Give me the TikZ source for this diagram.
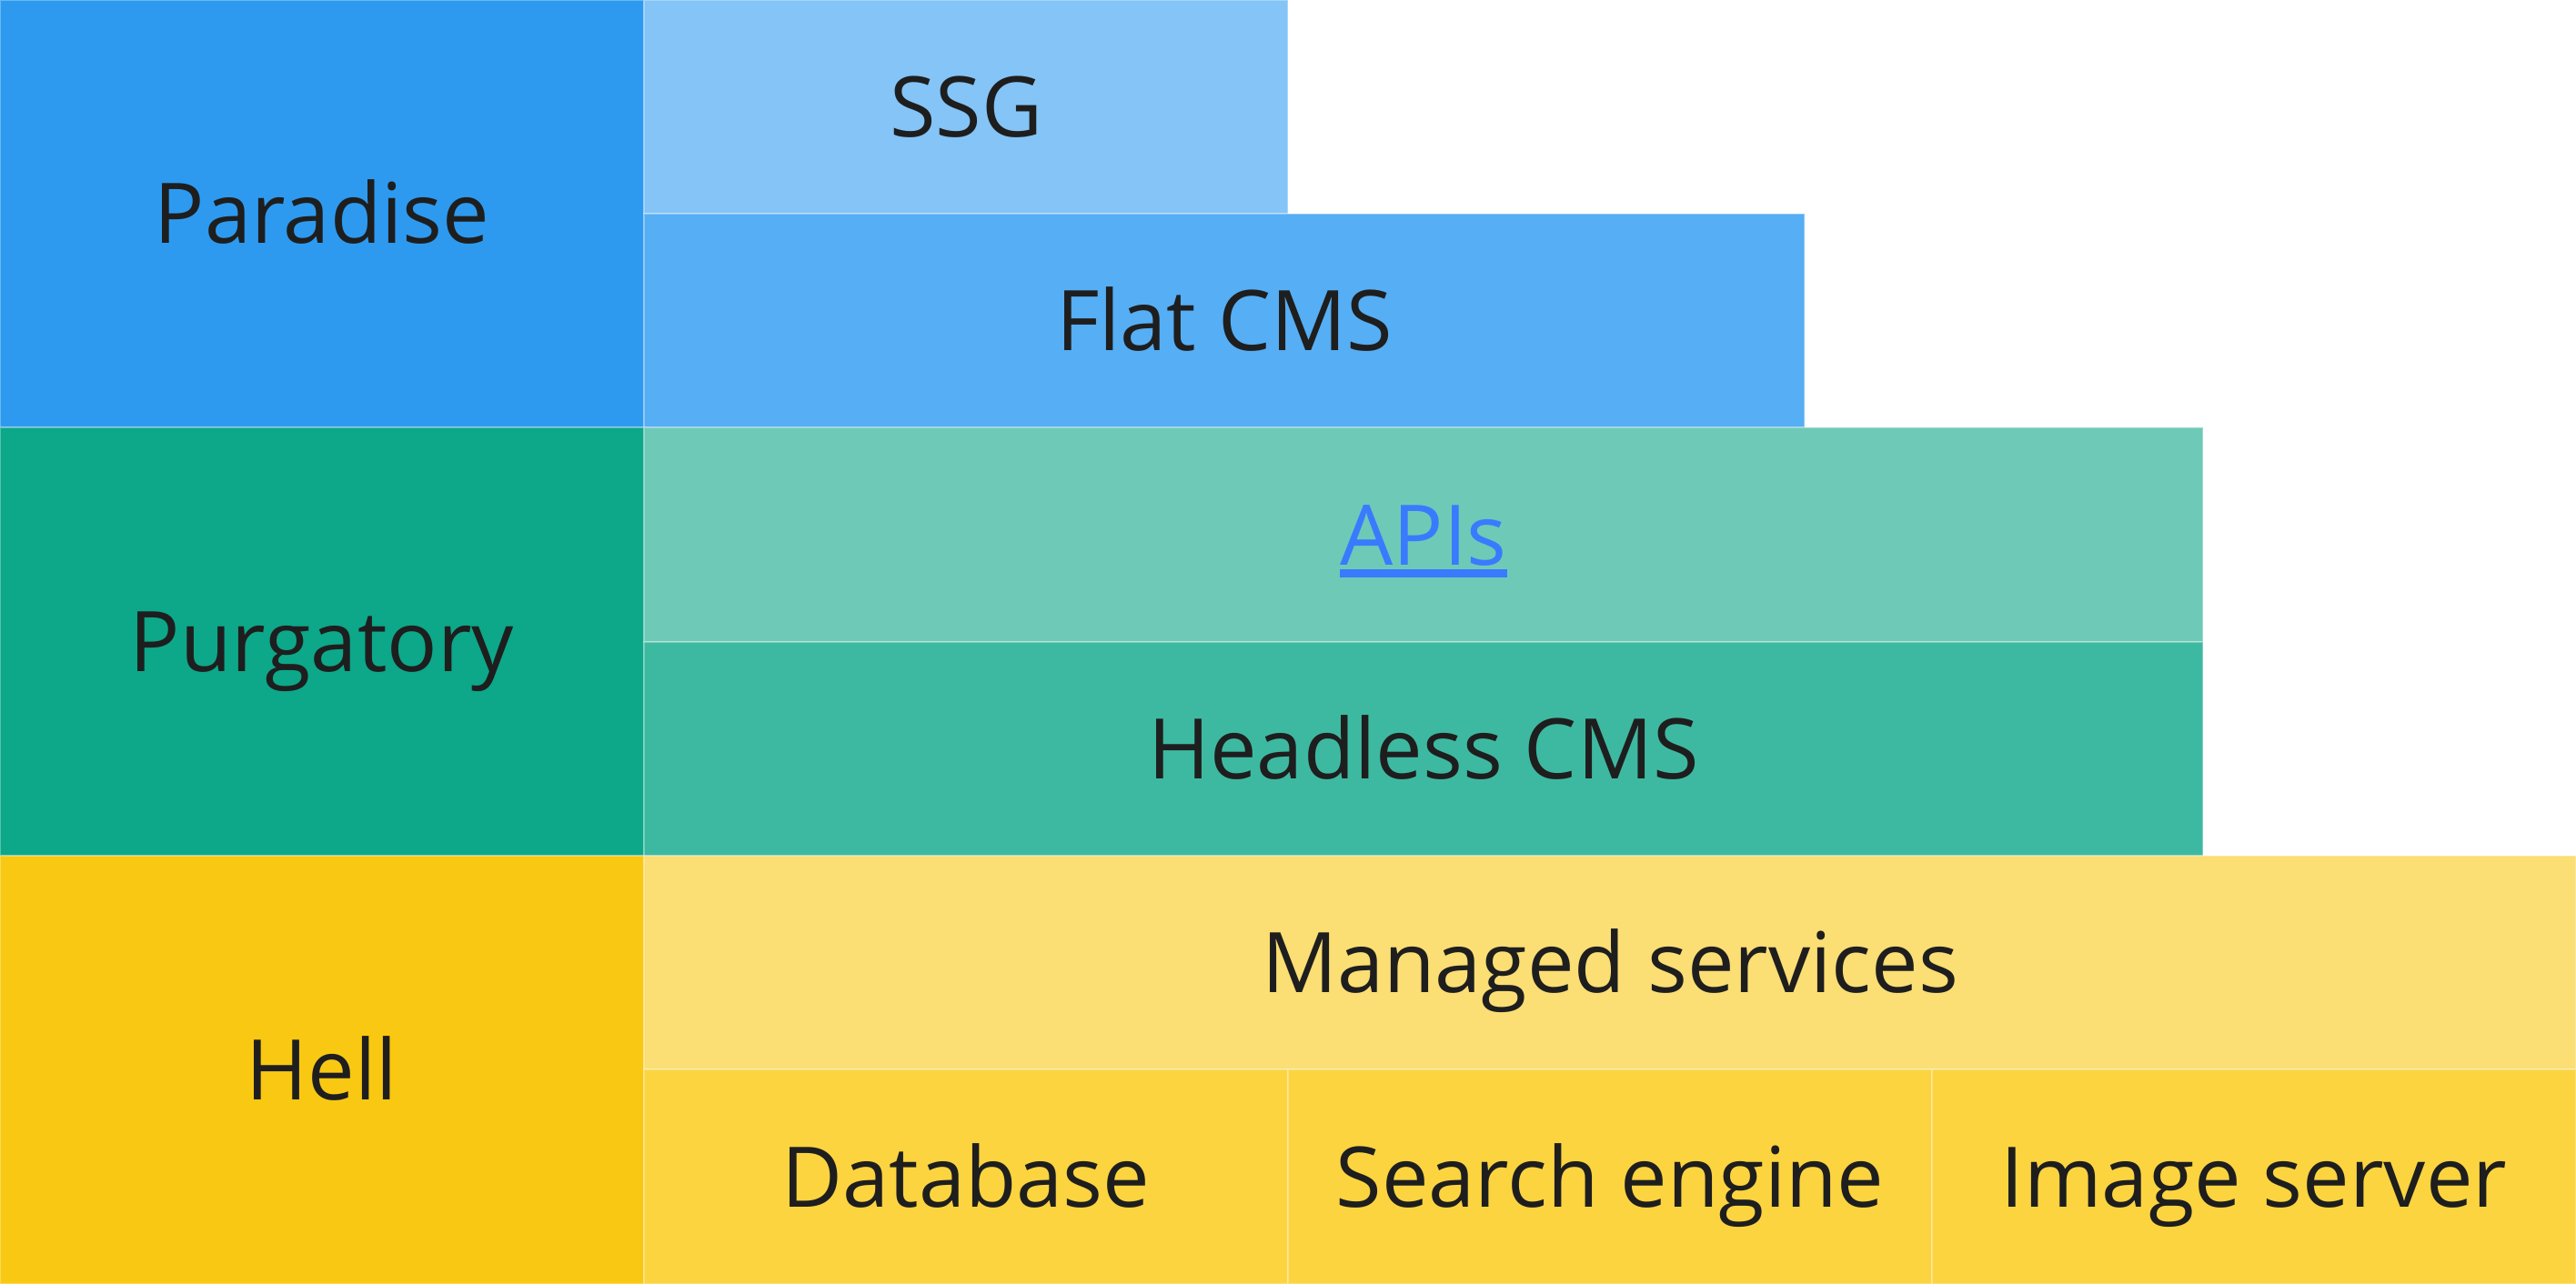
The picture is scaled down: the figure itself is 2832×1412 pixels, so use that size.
\documentclass[tikz,border=0pt]{standalone}
\usepackage{fontspec}
\setmainfont{Open Sans}
\definecolor{cParadise}{HTML}{2D9AF0}
\definecolor{cSSG}{HTML}{84C4F7}
\definecolor{cFlat}{HTML}{56AEF4}
\definecolor{cPurg}{HTML}{0DA789}
\definecolor{cAPI}{HTML}{6ECAB7}
\definecolor{cHeadless}{HTML}{3EB9A1}
\definecolor{cHell}{HTML}{F9C812}
\definecolor{cManaged}{HTML}{FBDE74}
\definecolor{cBottom}{HTML}{FBD440}
\definecolor{cText}{HTML}{1E1E1E}
\definecolor{cLink}{HTML}{3A7AFE}
\begin{document}
\begin{tikzpicture}[x=1pt,y=-1pt,
  cell/.style={rectangle, anchor=north west, inner sep=0pt, outer sep=0pt,
    draw=white, draw opacity=0.3, line width=2pt, text=cText,
    font=\fontsize{92}{108}\selectfont, text height=66pt, text depth=0pt}]
\useasboundingbox (0,0) rectangle (2832,1412);
\node[cell, fill=cParadise, minimum width=708pt, minimum height=470pt] (paradise) at (0,0) {Paradise};
\node[cell, fill=cSSG, minimum width=708pt, minimum height=235pt] (ssg) at (708,0) {SSG};
\node[cell, fill=cFlat, minimum width=1276pt, minimum height=235pt] (flat) at (708,235) {Flat CMS};
\node[cell, fill=cPurg, minimum width=708pt, minimum height=471pt] (purgatory) at (0,470) {Purgatory};
\node[cell, fill=cAPI, minimum width=1714pt, minimum height=236pt] (apis) at (708,470)
  {\color{cLink}\setbox0\hbox{APIs}\rlap{\raisebox{-14pt}{\rule{\wd0}{9pt}}}\box0};
\node[cell, fill=cHeadless, minimum width=1714pt, minimum height=235pt] (headless) at (708,706) {Headless CMS};
\node[cell, fill=cHell, minimum width=708pt, minimum height=471pt] (hell) at (0,941) {Hell};
\node[cell, fill=cManaged, minimum width=2124pt, minimum height=235pt] (managed) at (708,941) {Managed services};
\node[cell, fill=cBottom, minimum width=708pt, minimum height=236pt] (database) at (708,1176) {Database};
\node[cell, fill=cBottom, minimum width=708pt, minimum height=236pt] (search) at (1416,1176) {Search engine};
\node[cell, fill=cBottom, minimum width=708pt, minimum height=236pt] (image) at (2124,1176) {Image server};
\end{tikzpicture}
\end{document}
